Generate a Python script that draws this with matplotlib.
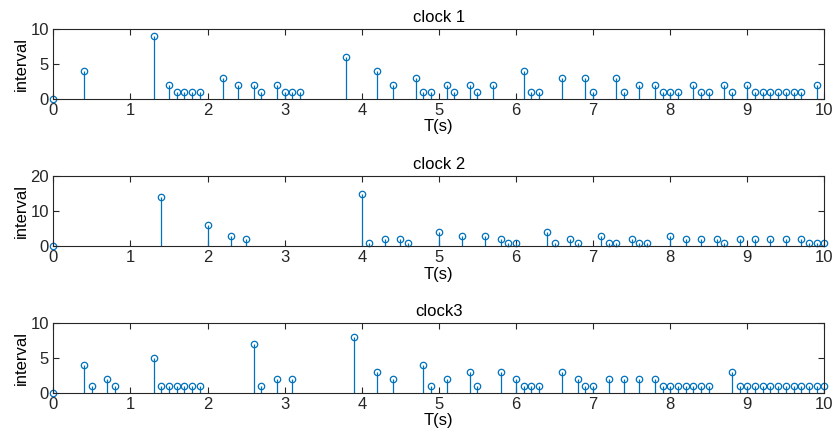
import numpy as np
import matplotlib.pyplot as plt

plt.rcParams['font.family'] = ['Liberation Sans', 'DejaVu Sans']

# clock 1 samples (time in s, interval)
t1 = [0, 0.4, 1.3, 1.5, 1.6, 1.7, 1.8, 1.9, 2.2, 2.4, 2.6, 2.7, 2.9, 3.0, 3.1, 3.2,
      3.8, 4.2, 4.4, 4.7, 4.8, 4.9, 5.1, 5.2, 5.4, 5.5, 5.7, 6.1, 6.2, 6.3, 6.6,
      6.9, 7.0, 7.3, 7.4, 7.6, 7.8, 7.9, 8.0, 8.1, 8.3, 8.4, 8.5, 8.7, 8.8, 9.0,
      9.1, 9.2, 9.3, 9.4, 9.5, 9.6, 9.7, 9.9]
v1 = [0, 4, 9, 2, 1, 1, 1, 1, 3, 2, 2, 1, 2, 1, 1, 1,
      6, 4, 2, 3, 1, 1, 2, 1, 2, 1, 2, 4, 1, 1, 3,
      3, 1, 3, 1, 2, 2, 1, 1, 1, 2, 1, 1, 2, 1, 2,
      1, 1, 1, 1, 1, 1, 1, 2]

# clock 2
t2 = [0, 1.4, 2.0, 2.3, 2.5, 4.0, 4.1, 4.3, 4.5, 4.6, 5.0, 5.3, 5.6, 5.8, 5.9, 6.0,
      6.4, 6.5, 6.7, 6.8, 7.1, 7.2, 7.3, 7.5, 7.6, 7.7, 8.0, 8.2, 8.4, 8.6, 8.7,
      8.9, 9.1, 9.3, 9.5, 9.7, 9.8, 9.9, 10.0]
v2 = [0, 14, 6, 3, 2, 15, 1, 2, 2, 1, 4, 3, 3, 2, 1, 1,
      4, 1, 2, 1, 3, 1, 1, 2, 1, 1, 3, 2, 2, 2, 1,
      2, 2, 2, 2, 2, 1, 1, 1]

# clock 3
t3 = [0, 0.4, 0.5, 0.7, 0.8, 1.3, 1.4, 1.5, 1.6, 1.7, 1.8, 1.9, 2.6, 2.7, 2.9, 3.1,
      3.9, 4.2, 4.4, 4.8, 4.9, 5.1, 5.4, 5.5, 5.8, 6.0, 6.1, 6.2, 6.3, 6.6, 6.8,
      6.9, 7.0, 7.2, 7.4, 7.6, 7.8, 7.9, 8.0, 8.1, 8.2, 8.3, 8.4, 8.5, 8.8, 8.9,
      9.0, 9.1, 9.2, 9.3, 9.4, 9.5, 9.6, 9.7, 9.8, 9.9, 10.0]
v3 = [0, 4, 1, 2, 1, 5, 1, 1, 1, 1, 1, 1, 7, 1, 2, 2,
      8, 3, 2, 4, 1, 2, 3, 1, 3, 2, 1, 1, 1, 3, 2,
      1, 1, 2, 2, 2, 2, 1, 1, 1, 1, 1, 1, 1, 3, 1,
      1, 1, 1, 1, 1, 1, 1, 1, 1, 1, 1]

titles = ["clock 1", "clock 2", "clock3"]
yticks = [[0, 5, 10], [0, 10, 20], [0, 5, 10]]
ylims = [(0, 10), (0, 20), (0, 10)]
data = [(t1, v1), (t2, v2), (t3, v3)]

blue = "#0072BD"
fig = plt.figure(figsize=(8.35, 4.45), dpi=100)
bottoms = [0.778, 0.447, 0.117]

for i, (t, v) in enumerate(data):
    ax = fig.add_axes([0.0638, bottoms[i], 0.9236, 0.157])
    ml, sl, bl = ax.stem(t, v, basefmt=" ")
    plt.setp(sl, color=blue, linewidth=0.9)
    plt.setp(ml, markerfacecolor="none", markeredgecolor=blue,
             markersize=4.6, markeredgewidth=0.9)
    ml.set_clip_on(False)
    ax.set_xlim(0, 10)
    ax.set_ylim(*ylims[i])
    ax.set_xticks(range(0, 11))
    ax.set_yticks(yticks[i])
    ax.tick_params(direction="in", top=True, right=True, labelsize=12,
                   length=4, width=0.8, colors="#262626", pad=3)
    for s in ax.spines.values():
        s.set_linewidth(0.8)
        s.set_color("#262626")
    ax.set_title(titles[i], fontsize=12, pad=5)
    ax.set_xlabel("T(s)", fontsize=12, labelpad=1)
    ax.set_ylabel("interval", fontsize=12, labelpad=1)

fig.savefig("out.png", dpi=100)
